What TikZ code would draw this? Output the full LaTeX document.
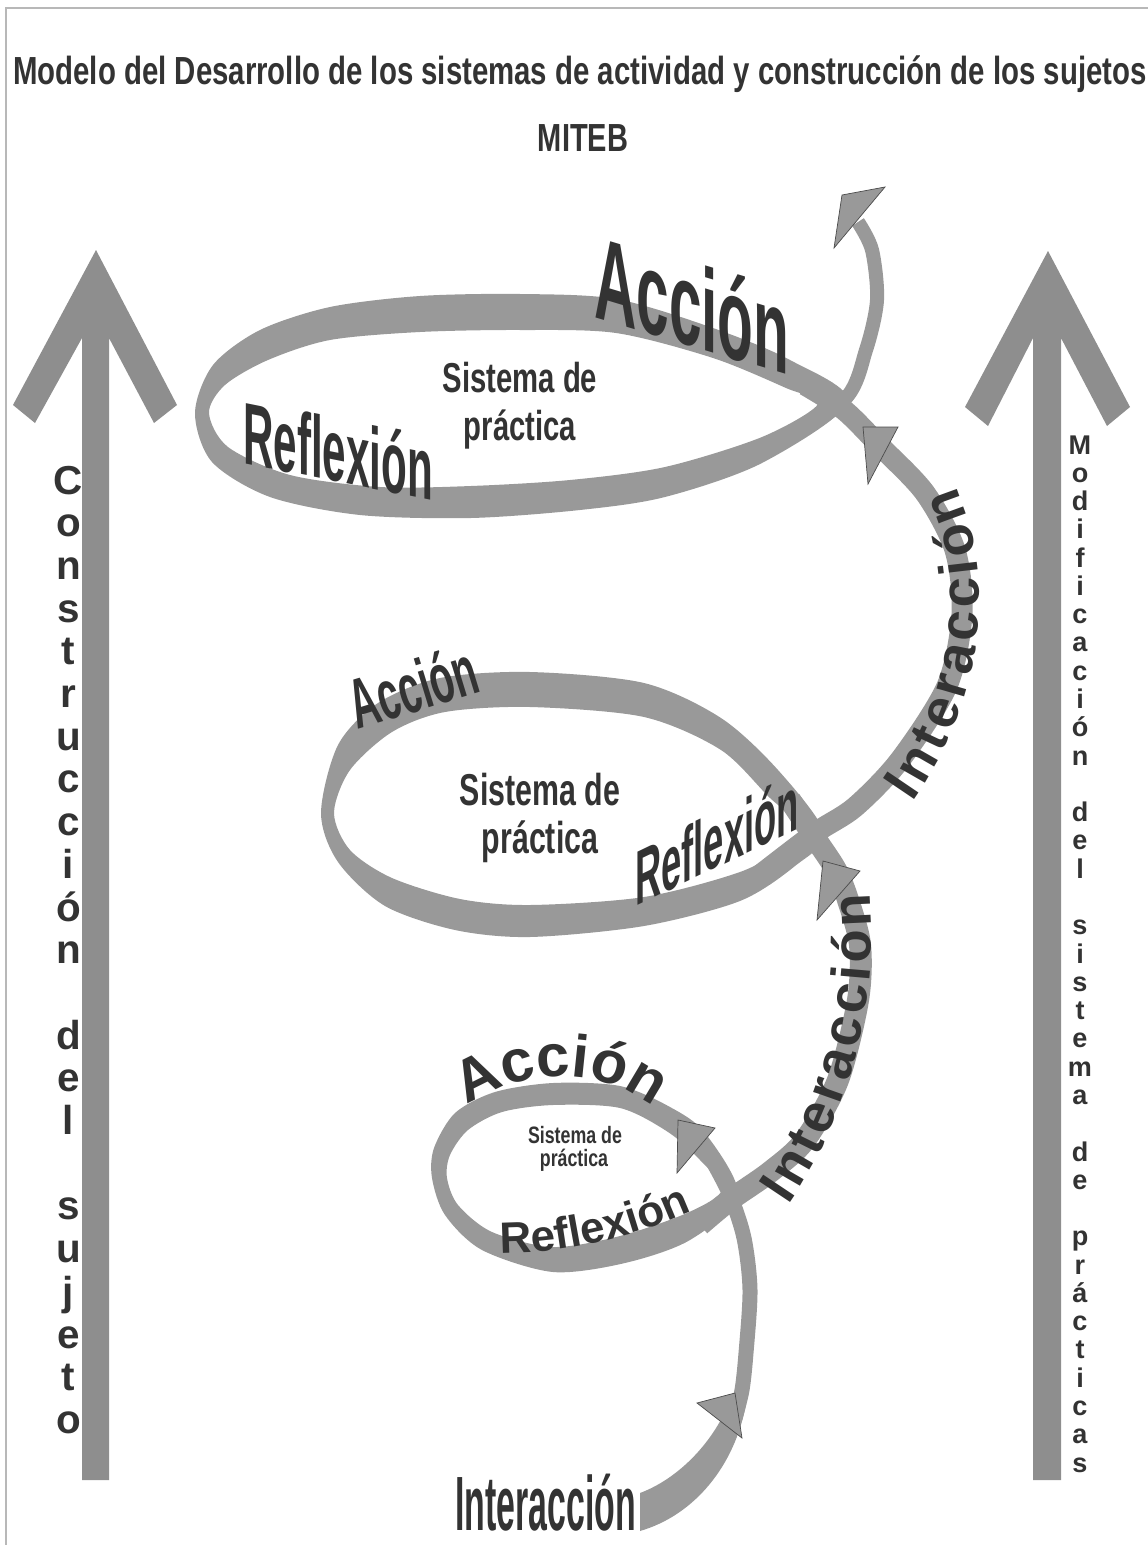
\documentclass[tikz,border=0pt]{standalone}
\usepackage{fontspec}
\setmainfont{Liberation Sans}
\usetikzlibrary{decorations.text}

\definecolor{bandgray}{HTML}{999999}
\definecolor{shaftgray}{HTML}{8E8E8E}
\definecolor{ink}{HTML}{333333}
\definecolor{framegray}{HTML}{B8B8B8}

\newcommand{\wfont}[1]{\fontsize{#1}{#1}\selectfont\bfseries}

\tikzset{
  band/.style={draw=bandgray, line width=#1*0.569pt, line cap=butt, line join=round},
  ring/.style={fill=bandgray, even odd rule},
  tip/.style={fill=bandgray, draw=black!70, line width=0.4pt},
  bigarrow/.style={fill=shaftgray},
  word/.style={text=ink, inner sep=0pt, font=\wfont{#1}},
  colletter/.style={text=ink, inner sep=0pt, anchor=base, font=\wfont{#1}}
}

\begin{document}
\begin{tikzpicture}[x=0.2mm,y=-0.2mm]
\useasboundingbox (0,0) rectangle (1148,1545);
\draw[framegray, line width=1.2pt] (6,1545) -- (6,8) -- (1148,8);

% title
\node[word=22.3, xscale=0.75, anchor=base] (title) at (580,85) {Modelo del Desarrollo de los sistemas de actividad y construcción de los sujetos};
\node[word=22.3, xscale=0.74, anchor=base] (miteb) at (583,152) {MITEB};

% side arrows
\fill[bigarrow] (96,250) -- (177,405) -- (154,423) -- (109,338) -- (109,1480) -- (82,1480) -- (82,338) -- (35,423) -- (13,405) -- cycle;
\fill[bigarrow] (1048,251) -- (1130,407) -- (1107,426) -- (1061,338) -- (1061,1480) -- (1033,1480) -- (1033,338) -- (988,426) -- (965,407) -- cycle;

% spiral
\fill[bandgray] (640,1493) .. controls (680,1478) and (715,1440) .. (730,1400) -- (746,1404) .. controls (735,1465) and (695,1515) .. (640,1531) -- cycle;
\draw[band=15] plot[smooth] coordinates {(735,1418) (742,1390) (746,1353) (750,1290) (744,1238) (730,1195) (712,1160)};
\fill[ring] plot[smooth cycle] coordinates {(738,1195) (705,1133) (670,1107) (620,1086) (553,1083) (495,1092) (455,1113) (434,1148) (432,1178) (445,1215) (482,1250) (553,1272) (625,1263) (690,1240)}
            plot[smooth cycle] coordinates {(722,1190) (700,1160) (668,1132) (620,1108) (553,1105) (502,1112) (468,1130) (450,1155) (447,1178) (458,1205) (492,1232) (553,1247) (620,1236) (687,1213)};
\draw[band=22] plot[smooth] coordinates {(700,1225) (730,1200) (770,1172) (805,1140) (838,1080) (858,1000) (860,945) (848,900) (836,870) (815,838) (790,800)};
\fill[ring] plot[smooth cycle] coordinates {(824,833) (778,770) (721,718) (644,683) (530,672) (440,678) (378,703) (338,745) (321,813) (338,862) (385,906) (455,930) (530,937) (644,926) (740,901) (795,866)}
            plot[smooth cycle] coordinates {(806,830) (770,798) (721,750) (644,717) (530,707) (445,712) (392,732) (350,770) (334,813) (350,850) (392,878) (460,899) (530,905) (644,897) (740,872) (790,845)};
\draw[band=21] plot[smooth] coordinates {(760,875) (815,833) (855,807) (900,760) (947,686) (962,614) (955,550) (925,493) (880,446) (844,410) (805,385)};
\fill[ring] plot[smooth cycle] coordinates {(848,402) (790,360) (713,328) (616,299) (520,294) (420,296) (330,307) (260,330) (213,365) (195,413) (212,462) (270,497) (360,515) (471,518) (580,510) (665,497) (762,463)}
            plot[smooth cycle] coordinates {(818,404) (786,388) (713,358) (616,333) (520,330) (420,332) (330,340) (268,360) (225,385) (209,413) (228,447) (290,475) (380,487) (471,486) (570,480) (665,467) (762,437)};
\draw[band=14] plot[smooth] coordinates {(765,448) (844,400) (866,350) (877,300) (872,250) (858,222)};

% arrow tips on the spiral
\filldraw[tip] (842,195) -- (885,187) -- (834,248) -- cycle;
\filldraw[tip] (863,427) -- (898,427) -- (868,484) -- cycle;
\filldraw[tip] (823,861) -- (860,871) -- (817,920) -- cycle;
\filldraw[tip] (678,1120) -- (715,1128) -- (677,1173) -- cycle;
\filldraw[tip] (697,1403) -- (735,1393) -- (742,1438) -- cycle;

% words on the top loop
\node[word=66.7, anchor=base west, yslant=-0.3, xscale=0.5] (accionA) at (594,317) {Acción};
\node[word=50, anchor=base west, yslant=-0.2, xscale=0.48] (reflexA) at (243,463) {Reflexión};
\node[word=23.8, anchor=base, xscale=0.7] (sistA) at (520,392) {Sistema de};
\node[word=23.8, anchor=base, xscale=0.7] (practA) at (520,440) {práctica};

% words on the middle loop
\node[word=40, anchor=base west, rotate=17, xscale=0.56] (accionB) at (357,730) {Acción};
\node[word=25.4, anchor=base, xscale=0.68] (sistB) at (540,805) {Sistema de};
\node[word=25.4, anchor=base, xscale=0.68] (practB) at (540,853) {práctica};
\node[word=44, anchor=base west, yslant=0.48, xscale=0.47] (reflexB) at (635,907) {Reflexión};
\path[decorate, decoration={text along path, text align=fit to path, text={|\color{ink}\wfont{31}|Interacción}}]
  (912,802) .. controls (970,720) and (1005,600) .. (956,486);

% words on the small loop
\path[decorate, decoration={text along path, text align=center, text={|\color{ink}\wfont{34}|Acción}}]
  (458,1112) .. controls (518,1068) and (602,1060) .. (662,1114);
\node[word=13.5, anchor=base, xscale=0.75] (sistC) at (575,1143) {Sistema de};
\node[word=13.5, anchor=base, xscale=0.75] (practC) at (574,1166) {práctica};
\path[decorate, decoration={text along path, text align=center, text={|\color{ink}\wfont{25}|Reflexión}}]
  (490,1253) .. controls (560,1256) and (640,1236) .. (702,1206);
\path[decorate, decoration={text along path, text align=fit to path, text={|\color{ink}\wfont{31}|Interacción}}]
  (788,1205) .. controls (840,1130) and (880,1020) .. (870,893);
\node[word=43.8, anchor=base west, xscale=0.44] (interD) at (455,1530) {Interacción};

% letter columns
\foreach \w/\s in {{C,o,n,s,t,r,u,c,c,i,ó,n}/0,{d,e,l}/13,{s,u,j,e,t,o}/17}
  \foreach \ch [count=\k from \s] in \w
    \node[colletter=23] (l\k) at (68.5,{494+42.7*\k}) {\ch};
\foreach \w/\s in {{M,o,d,i,f,i,c,a,c,i,ó,n}/0,{d,e,l}/13,{s,i,s,t,e,m,a}/17,{d,e}/25,{p,r,á,c,t,i,c,a,s}/28}
  \foreach \ch [count=\k from \s] in \w
    \node[colletter=15.4] (r\k) at (1080,{454+28.28*\k}) {\ch};
\end{tikzpicture}
\end{document}
